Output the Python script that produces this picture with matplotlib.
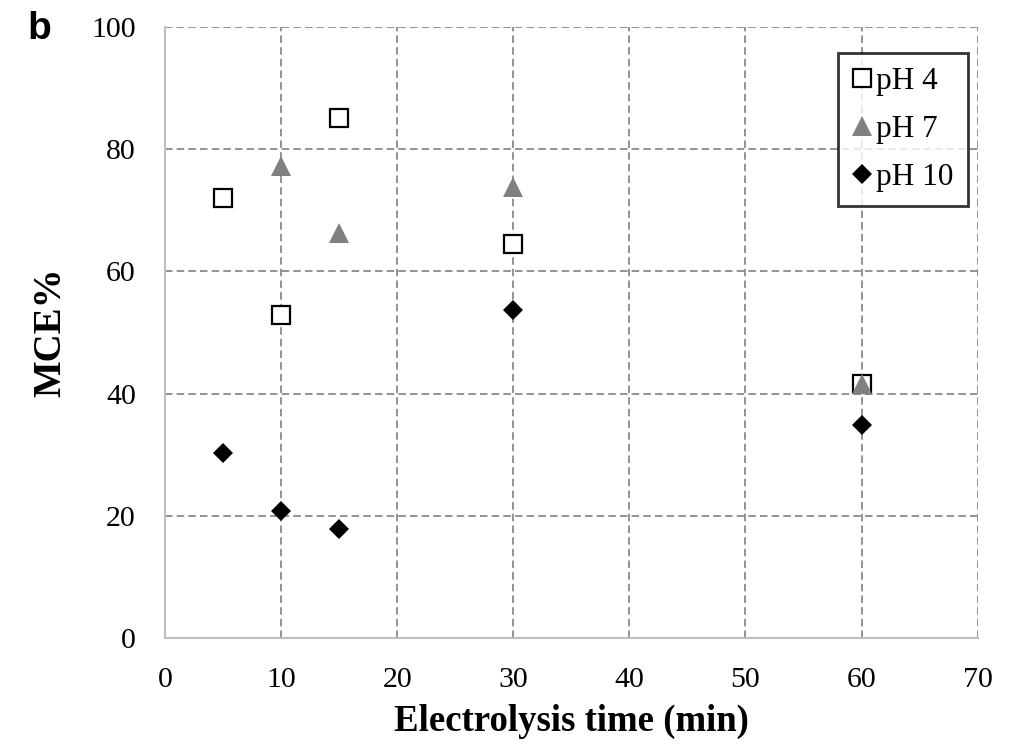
import numpy as np
import matplotlib.pyplot as plt

plt.rcParams['font.family'] = ['Liberation Serif', 'DejaVu Serif']

#? ================================= dados
t_ph4 = [5, 10, 15, 30, 60]
mce_ph4 = [72.0, 52.9, 85.1, 64.5, 41.6]

t_ph7 = [10, 15, 30, 60]
mce_ph7 = [77.2, 66.3, 73.8, 41.5]

t_ph10 = [5, 10, 15, 30, 60]
mce_ph10 = [30.3, 20.8, 17.8, 53.7, 34.9]

x_ticks = [0, 10, 20, 30, 40, 50, 60, 70]
y_ticks = [0, 20, 40, 60, 80, 100]

fig = plt.figure(figsize=(10.12, 7.45), dpi=100)
ax = fig.add_axes([0.163, 0.1436, 0.803, 0.8202])

ax.plot(t_ph4, mce_ph4, ls='none', marker='s', ms=13.5, mfc='white', mec='black', mew=1.6, label='pH 4', zorder=3)
ax.plot(t_ph7, mce_ph7, ls='none', marker='^', ms=14, mfc='#808080', mec='#808080', mew=0, label='pH 7', zorder=4)
ax.plot(t_ph10, mce_ph10, ls='none', marker='D', ms=10.2, mfc='black', mec='black', mew=0, label='pH 10', zorder=3)

ax.set_xlim(0, 70)
ax.set_ylim(0, 100)
ax.set_xticks(x_ticks)
ax.set_yticks(y_ticks)
ax.tick_params(labelsize=21.5, length=0, pad=21)

ax.grid(True, linestyle=(0, (4.5, 2.5)), color='#808080', linewidth=1.2)
ax.set_axisbelow(True)
for s in ['top', 'right']:
    ax.spines[s].set_visible(False)
for s in ['left', 'bottom']:
    ax.spines[s].set_color('#bfbfbf')
    ax.spines[s].set_linewidth(1.5)

ax.set_xlabel('Electrolysis time (min)', fontsize=26.5, fontweight='bold', labelpad=8)
ax.set_ylabel('MCE%', fontsize=28, fontweight='bold', labelpad=16)

leg = ax.legend(loc='upper right', bbox_to_anchor=(0.9877, 0.9574), fontsize=22.5, frameon=True,
                fancybox=False, shadow=False, handlelength=0.65, handletextpad=0.12,
                borderpad=0.45, labelspacing=0.6, borderaxespad=0)
leg.get_frame().set_edgecolor('black')
leg.get_frame().set_linewidth(2)

fig.text(0.027, 0.948, 'b', fontsize=28, fontweight='bold', family='Liberation Sans', va='baseline')

fig.savefig('out.png', dpi=100)
